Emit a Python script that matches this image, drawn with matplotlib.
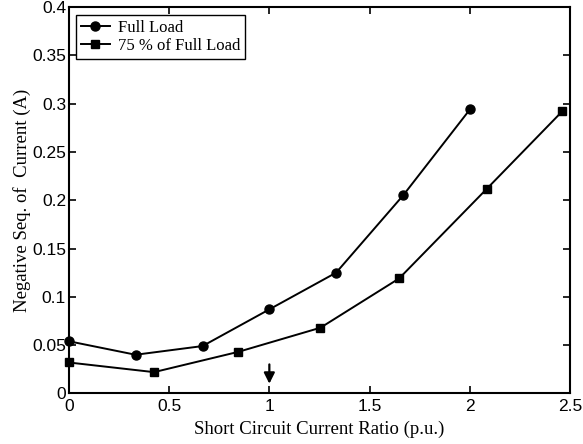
import matplotlib.pyplot as plt

# short circuit current ratio (p.u.) and negative sequence current (A)
x_full = [0.0, 0.333, 0.667, 1.0, 1.333, 1.667, 2.0]
y_full = [0.054, 0.040, 0.049, 0.087, 0.125, 0.205, 0.294]

x_75 = [0.0, 0.425, 0.845, 1.255, 1.647, 2.085, 2.46]
y_75 = [0.032, 0.022, 0.043, 0.068, 0.119, 0.212, 0.292]

# rated operating point marker
arrow_x = 1.0
arrow_top, arrow_tip = 0.030, 0.010

serif = 'Liberation Serif'
sans = 'Liberation Sans'

fig = plt.figure(figsize=(5.83, 4.44), dpi=100)
ax = fig.add_axes([0.118, 0.114, 0.860, 0.870])

ax.plot(x_full, y_full, color='black', lw=1.4, marker='o', ms=6.5,
        label='Full Load', clip_on=False, zorder=3)
ax.plot(x_75, y_75, color='black', lw=1.4, marker='s', ms=5.5,
        label='75 % of Full Load', clip_on=False, zorder=3)

ax.annotate('', xy=(arrow_x, arrow_tip), xytext=(arrow_x, arrow_top),
            arrowprops=dict(arrowstyle='-|>', color='black', lw=1.6,
                            mutation_scale=16, shrinkA=0, shrinkB=0))

ax.set_xlim(0, 2.5)
ax.set_ylim(0, 0.4)
ax.set_xticks([0, 0.5, 1, 1.5, 2, 2.5])
ax.set_xticklabels(['0', '0.5', '1', '1.5', '2', '2.5'])
ax.set_yticks([0, 0.05, 0.1, 0.15, 0.2, 0.25, 0.3, 0.35, 0.4])
ax.set_yticklabels(['0', '0.05', '0.1', '0.15', '0.2', '0.25', '0.3', '0.35', '0.4'])
ax.tick_params(direction='in', top=True, right=True, length=5, width=1.2,
               labelsize=12.5, pad=2)
ax.tick_params(axis='x', pad=4)
for lab in ax.get_xticklabels() + ax.get_yticklabels():
    lab.set_fontfamily(sans)
for sp in ax.spines.values():
    sp.set_linewidth(1.5)

ax.set_xlabel('Short Circuit Current Ratio (p.u.)', fontfamily=serif, fontsize=13.5, labelpad=5)
ax.set_ylabel('Negative Seq. of  Current (A)', fontfamily=serif, fontsize=13.5, labelpad=1)

leg = ax.legend(loc='upper left', prop={'family': serif, 'size': 12}, fancybox=False,
                edgecolor='black', framealpha=1, handlelength=1.7, borderaxespad=0.45,
                labelspacing=0.12, borderpad=0.3, handletextpad=0.5)
leg.get_frame().set_linewidth(1.0)

fig.savefig('out.png', dpi=100)
